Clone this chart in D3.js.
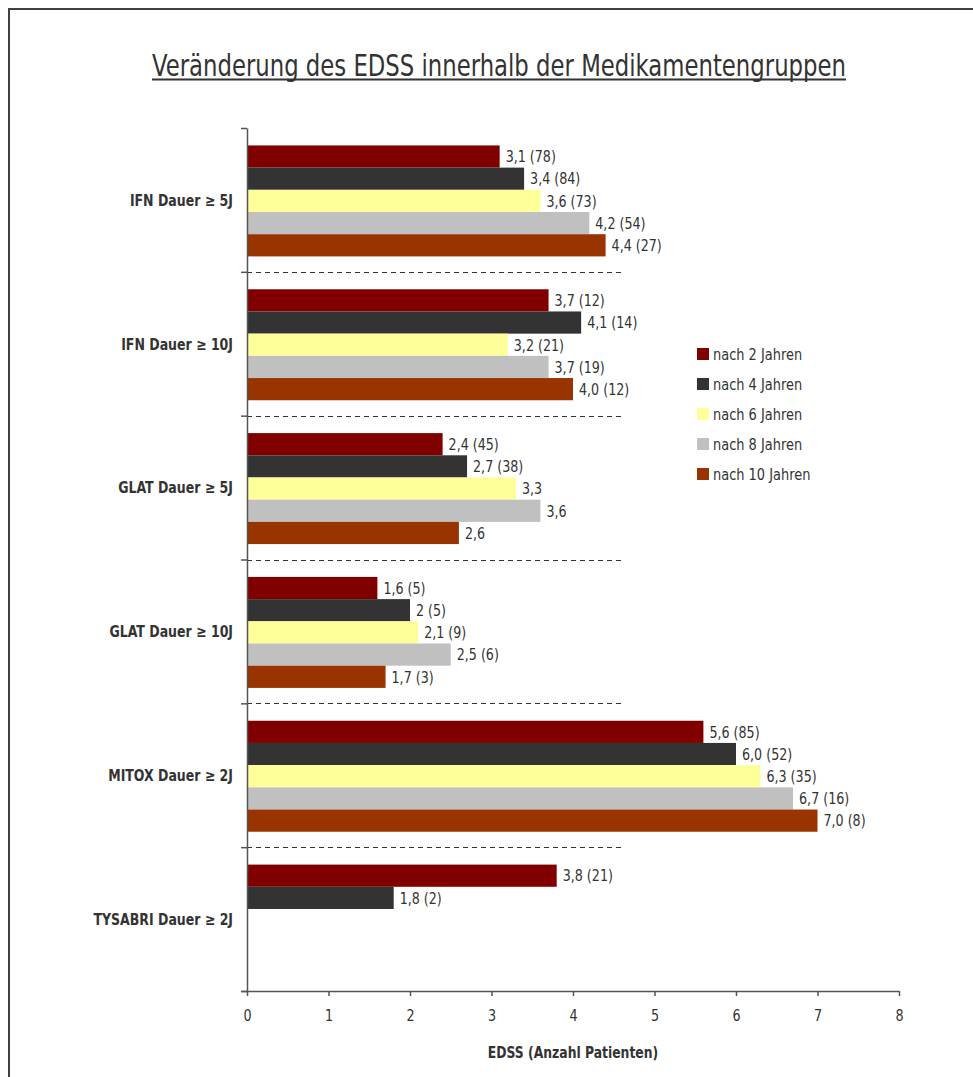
<!DOCTYPE html>
<html>
<head>
<meta charset="utf-8">
<script src="https://cdn.jsdelivr.net/npm/d3@7"></script>
<style>
  html, body { margin: 0; padding: 0; background: #fff; }
  svg { display: block; }
  text { font-family: "Liberation Sans Narrow", "DejaVu Sans Condensed", "Roboto Condensed", sans-serif; fill: #333; }
</style>
</head>
<body>
<svg id="chart" width="973" height="1077"></svg>
<script>
// Medication groups (y categories)
const categories = [
  "IFN Dauer \u2265 5J",
  "IFN Dauer \u2265 10J",
  "GLAT Dauer \u2265 5J",
  "GLAT Dauer \u2265 10J",
  "MITOX Dauer \u2265 2J",
  "TYSABRI Dauer \u2265 2J"
];

// Follow-up periods (series)
const seriesNames = ["nach 2 Jahren", "nach 4 Jahren", "nach 6 Jahren", "nach 8 Jahren", "nach 10 Jahren"];
const seriesColors = ["#800000", "#333333", "#FFFF99", "#C0C0C0", "#993300"];

// Mean EDSS per group and period, written as shown (German decimal comma); null = no value
const edss2  = ["3,1", "3,7", "2,4", "1,6", "5,6", "3,8"];
const edss4  = ["3,4", "4,1", "2,7", "2",   "6,0", "1,8"];
const edss6  = ["3,6", "3,2", "3,3", "2,1", "6,3", null];
const edss8  = ["4,2", "3,7", "3,6", "2,5", "6,7", null];
const edss10 = ["4,4", "4,0", "2,6", "1,7", "7,0", null];

// Number of patients per group and period; null = not stated
const patients2  = [78, 12, 45, 5, 85, 21];
const patients4  = [84, 14, 38, 5, 52, 2];
const patients6  = [73, 21, null, 9, 35, null];
const patients8  = [54, 19, null, 6, 16, null];
const patients10 = [27, 12, null, 3, 8, null];

const xTicks = [0, 1, 2, 3, 4, 5, 6, 7, 8];

const edssBySeries = [edss2, edss4, edss6, edss8, edss10];
const patientsBySeries = [patients2, patients4, patients6, patients8, patients10];

const toNumber = s => +s.replace(",", ".");

const records = [];
categories.forEach((cat, ci) => {
  seriesNames.forEach((ser, si) => {
    const txt = edssBySeries[si][ci];
    if (txt === null) return;
    const n = patientsBySeries[si][ci];
    records.push({
      category: cat,
      series: ser,
      color: seriesColors[si],
      value: toNumber(txt),
      label: n === null ? txt : `${txt} (${n})`
    });
  });
});

// squeeze text horizontally to a narrow face
function condense(sel, factor) {
  sel.each(function () {
    const w = this.getComputedTextLength();
    d3.select(this)
      .attr("textLength", (w * factor).toFixed(1))
      .attr("lengthAdjust", "spacingAndGlyphs");
  });
}

const svg = d3.select("#chart");

// outer frame
svg.append("rect")
  .attr("x", 9).attr("y", 9)
  .attr("width", 1000).attr("height", 1100)
  .attr("fill", "none").attr("stroke", "#404040").attr("stroke-width", 2);

// title, scaled horizontally to a narrow width
const titleGroup = svg.append("g");
const titleText = titleGroup.append("text")
  .attr("x", 0).attr("y", 0)
  .attr("text-anchor", "middle")
  .attr("font-size", 31)
  .text("Ver\u00e4nderung des EDSS innerhalb der Medikamentengruppen");
const titleWidth = titleText.node().getComputedTextLength();
titleGroup.attr("transform", `translate(499,76) scale(${(694 / titleWidth).toFixed(4)},1)`);
svg.append("line")
  .attr("x1", 152).attr("x2", 846)
  .attr("y1", 79.5).attr("y2", 79.5)
  .attr("stroke", "#333").attr("stroke-width", 2);

const plotLeft = 247, plotRight = 899, plotTop = 128, plotBottom = 991;

const x = d3.scaleLinear().domain([0, 8]).range([plotLeft, plotRight]);
const y = d3.scaleBand().domain(categories).range([plotTop, plotBottom]).paddingInner(0).paddingOuter(0);
const yInner = d3.scaleBand().domain(seriesNames).range([0, y.bandwidth()]).paddingInner(0).paddingOuter(0.74);
const yBoundary = d3.scaleLinear().domain([0, categories.length]).range([plotTop, plotBottom]);

// dashed separators between groups
svg.append("g")
  .selectAll("line")
  .data(d3.range(1, categories.length))
  .join("line")
  .attr("x1", plotLeft).attr("x2", 621)
  .attr("y1", d => Math.round(yBoundary(d)) + 0.5)
  .attr("y2", d => Math.round(yBoundary(d)) + 0.5)
  .attr("stroke", "#333").attr("stroke-width", 1)
  .attr("stroke-dasharray", "5,4");

// bars
svg.append("g")
  .selectAll("rect")
  .data(records)
  .join("rect")
  .attr("x", x(0))
  .attr("y", d => y(d.category) + yInner(d.series) + 1)
  .attr("width", d => x(d.value) - x(0))
  .attr("height", yInner.bandwidth())
  .attr("fill", d => d.color);

// value labels
svg.append("g")
  .selectAll("text")
  .data(records)
  .join("text")
  .attr("x", d => x(d.value) + 6)
  .attr("y", d => y(d.category) + yInner(d.series) + yInner.bandwidth() / 2 + 1)
  .attr("dy", "0.36em")
  .attr("font-size", 16)
  .text(d => d.label)
  .call(condense, 0.88);

// y axis
const yAxis = svg.append("g")
  .attr("transform", `translate(${plotLeft},0)`)
  .call(d3.axisLeft(yBoundary).tickValues(d3.range(0, categories.length + 1)).tickFormat("").tickSize(6).tickSizeOuter(0));
yAxis.selectAll("path, line").attr("stroke", "#555").attr("stroke-width", 1.5);

// category labels
svg.append("g")
  .selectAll("text")
  .data(categories)
  .join("text")
  .attr("x", 233)
  .attr("y", d => y(d) + y.bandwidth() / 2)
  .attr("dy", "0.36em")
  .attr("text-anchor", "end")
  .attr("font-size", 16)
  .attr("font-weight", "bold")
  .text(d => d)
  .call(condense, 0.87);

// x axis
const xAxis = svg.append("g")
  .attr("transform", `translate(0,${plotBottom})`)
  .call(d3.axisBottom(x).tickValues(xTicks).tickFormat(d3.format("d")).tickSize(5).tickSizeOuter(0).tickPadding(14));
xAxis.selectAll("path, line").attr("stroke", "#555").attr("stroke-width", 1.5);
xAxis.select(".domain").attr("d", `M${plotLeft - 6},0.5H${plotRight}`);
xAxis.selectAll("text")
  .attr("font-size", 16)
  .attr("fill", "#333")
  .style("font-family", "\"Liberation Sans Narrow\", \"DejaVu Sans Condensed\", sans-serif")
  .call(condense, 0.88);

// x axis title
svg.append("text")
  .attr("x", 573).attr("y", 1058)
  .attr("text-anchor", "middle")
  .attr("font-size", 16)
  .attr("font-weight", "bold")
  .text("EDSS (Anzahl Patienten)")
  .call(condense, 0.86);

// legend
const legend = svg.append("g")
  .selectAll("g")
  .data(seriesNames)
  .join("g")
  .attr("transform", (d, i) => `translate(697,${348 + i * 30})`);
legend.append("rect")
  .attr("width", 12).attr("height", 12)
  .attr("fill", (d, i) => seriesColors[i]);
legend.append("text")
  .attr("x", 16).attr("y", 6)
  .attr("dy", "0.36em")
  .attr("font-size", 16)
  .text(d => d)
  .call(condense, 0.9);
</script>
</body>
</html>
